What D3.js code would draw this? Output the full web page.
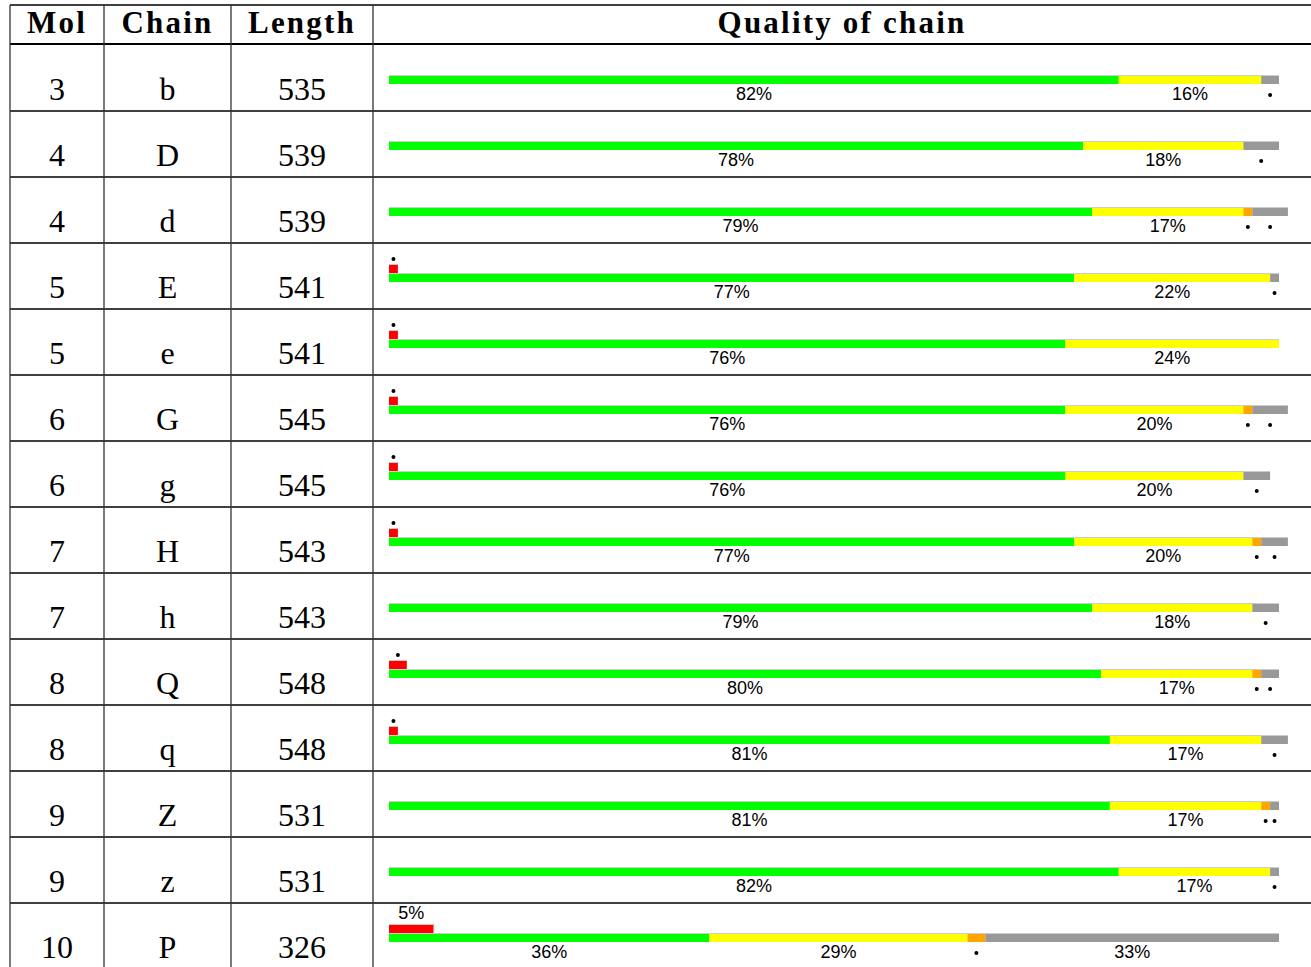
<!DOCTYPE html>
<html><head><meta charset="utf-8">
<script src="https://cdn.jsdelivr.net/npm/d3@7"></script>
<style>body{margin:0;background:#fff;}svg{display:block;}</style>
</head><body>
<svg id="c" width="1311" height="967"></svg>
<script>
const headers = ["Mol","Chain","Length","Quality of chain"];
const mols    = ["3","4","4","5","5","6","6","7","7","8","8","9","9","10"];
const chains  = ["b","D","d","E","e","G","g","H","h","Q","q","Z","z","P"];
const lengths = ["535","539","539","541","541","545","545","543","543","548","548","531","531","326"];
// quality bar segments (% of residues)
const greenPct  = [82,78,79,77,76,76,76,77,79,80,81,81,82,36];
const yellowPct = [16,18,17,22,24,20,20,20,18,17,17,17,17,29];
const orangePct = [0,0,1,0,0,1,0,1,0,1,0,1,0,2];
const grayPct   = [2,4,4,1,0,4,3,3,3,2,3,1,1,33];
// upper bar: outlier fraction
const redPct    = [0,0,0,1,1,1,1,1,0,2,1,0,0,5];

const segColors = ["#00ff00","#ffff00","#ffa500","#999999"];
const svg = d3.select("#c");
const colX = [10,104,231,373,1311];
const headTop = 5, headBot = 44, rowH = 66;
const x = d3.scaleLinear().domain([0,100]).range([389,1279]);
const rowY = d3.scaleLinear().domain([0,1]).range([headBot+1, headBot+1+rowH]);
const labelFont = "Liberation Sans, Arial, sans-serif";

// header
headers.forEach((h,i)=>{
  svg.append("text").attr("x",(colX[i]+colX[i+1])/2).attr("y",33)
    .attr("text-anchor","middle").attr("font-family","Liberation Serif, serif")
    .attr("font-weight","bold").attr("font-size",31).attr("letter-spacing",2.2).text(h);
});

const cols = [mols,chains,lengths];
mols.forEach((m,r)=>{
  const top = rowY(r);
  cols.forEach((arr,ci)=>{
    svg.append("text").attr("x",(colX[ci]+colX[ci+1])/2).attr("y",top+55)
      .attr("text-anchor","middle").attr("font-family","Liberation Serif, serif")
      .attr("font-size",32).text(arr[r]);
  });
  const barTop = top+30, barH = 9;
  const vals = [greenPct[r],yellowPct[r],orangePct[r],grayPct[r]];
  let acc = 0;
  vals.forEach((v,k)=>{
    if(v<=0) return;
    const x0 = x(acc), x1 = x(acc+v);
    svg.append("rect").attr("x",x0).attr("y",barTop).attr("width",x1-x0).attr("height",barH).attr("fill",segColors[k]);
    svg.append("line").attr("x1",x0).attr("x2",x1).attr("y1",barTop+0.5).attr("y2",barTop+0.5).attr("stroke","#cccccc").attr("stroke-width",1);
    const cx = (x0+x1)/2;
    if(v>=5){
      svg.append("text").attr("x",cx).attr("y",barTop+barH+16).attr("text-anchor","middle")
        .attr("font-family",labelFont).attr("font-size",18).text(v+"%");
    } else {
      svg.append("circle").attr("cx",cx).attr("cy",barTop+barH+11).attr("r",2).attr("fill","#000");
    }
    acc += v;
  });
  const rv = redPct[r];
  if(rv>0){
    const x0 = x(0), x1 = x(rv), y0 = barTop-barH;
    svg.append("rect").attr("x",x0).attr("y",y0).attr("width",x1-x0).attr("height",barH).attr("fill","#ff0000");
    svg.append("line").attr("x1",x0).attr("x2",x1).attr("y1",y0+0.5).attr("y2",y0+0.5).attr("stroke","#cccccc").attr("stroke-width",1);
    const cx = (x0+x1)/2;
    if(rv>=5){
      svg.append("text").attr("x",cx).attr("y",y0-5).attr("text-anchor","middle")
        .attr("font-family",labelFont).attr("font-size",18).text(rv+"%");
    } else {
      svg.append("circle").attr("cx",cx).attr("cy",y0-5).attr("r",2).attr("fill","#000");
    }
  }
});

// grid lines
const nRows = mols.length;
svg.append("line").attr("x1",colX[0]).attr("x2",1311).attr("y1",headTop).attr("y2",headTop).attr("stroke","#000").attr("stroke-width",1.6);
svg.append("line").attr("x1",colX[0]).attr("x2",1311).attr("y1",headBot).attr("y2",headBot).attr("stroke","#000").attr("stroke-width",2.2);
for(let r=1;r<nRows;r++){
  svg.append("line").attr("x1",colX[0]).attr("x2",1311).attr("y1",rowY(r)).attr("y2",rowY(r)).attr("stroke","#000").attr("stroke-width",1.4);
}
colX.slice(0,4).forEach(cx=>{
  svg.append("line").attr("x1",cx).attr("x2",cx).attr("y1",headTop).attr("y2",967).attr("stroke","#333").attr("stroke-width",1.3);
});
</script>
</body></html>
